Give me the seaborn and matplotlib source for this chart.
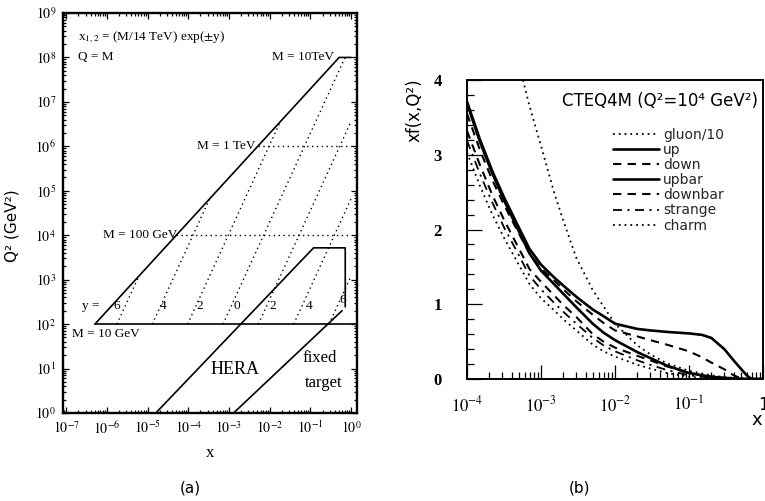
import math
import matplotlib
matplotlib.use("Agg")
import matplotlib.pyplot as plt
import seaborn as sns
from matplotlib.lines import Line2D
from matplotlib.ticker import FixedLocator, LogLocator, NullFormatter

sns.set_theme(style="ticks")
plt.rcParams["font.family"] = ["DejaVu Sans"]
plt.rcParams["mathtext.fontset"] = "stix"

# ---------------- panel (a): LHC / HERA kinematic plane ----------------
lhc_x = [5.1e-7, 0.51, 1.0]
lhc_q2 = [1e2, 1e8, 1e8]
m10_x = [5.1e-7, 1.4]
m10_q2 = [1e2, 1e2]
mass_q2 = [1e4, 1e6]          # M = 100 GeV, 1 TeV
mass_x_start = [5.1e-5, 5.1e-3]
mass_x_end = [1.0, 1.0]
rap_labels = ["6", "4", "2", "0", "2", "4", "6"]
rap_x_start = [1.77e-6, 1.31e-5, 9.66e-5, 7.14e-4, 5.28e-3, 3.90e-2, 0.288]
rap_x_end = [6.14e-6, 3.36e-4, 1.83e-2, 0.714, 1.0, 1.0, 1.0]
rap_q2_end = [1.2e3, 6.6e4, 3.6e6, 1e8, 3.6e6, 6.6e4, 1.2e3]
hera_x = [1.6e-5, 0.12, 0.72, 0.72]
hera_q2 = [1, 5.2e3, 5.2e3, 245]
fixed_x = [1.3e-3, 0.6]
fixed_q2 = [1, 200]

# ---------------- panel (b): CTEQ4M parton distributions ----------------
x_grid = [1e-4, 1.5e-4, 2.2e-4, 3.2e-4, 5e-4, 7e-4, 1e-3, 1.5e-3, 2e-3, 3e-3,
          5e-3, 7e-3, 1e-2, 2e-2, 3e-2, 5e-2, 0.1, 0.15, 0.2, 0.3, 0.4, 0.5,
          0.6, 0.7, 1.0]
up = [3.71, 3.20, 2.78, 2.42, 2.03, 1.74, 1.53, 1.36, 1.25, 1.10, 0.93, 0.84,
      0.74, 0.67, 0.65, 0.63, 0.61, 0.59, 0.55, 0.40, 0.25, 0.14, 0.05, 0.0, 0.0]
upbar = [3.69, 3.17, 2.75, 2.38, 1.98, 1.68, 1.45, 1.27, 1.14, 0.96, 0.74, 0.62,
         0.52, 0.36, 0.28, 0.18, 0.08, 0.05, 0.03, 0.015, 0.008, 0.003, 0.001, 0.0, 0.0]
down = [3.55, 3.06, 2.66, 2.32, 1.95, 1.68, 1.48, 1.32, 1.20, 1.04, 0.86, 0.75,
        0.65, 0.57, 0.52, 0.46, 0.37, 0.29, 0.22, 0.13, 0.05, 0.01, 0.0, 0.0, 0.0]
downbar = [3.32, 2.86, 2.46, 2.12, 1.75, 1.47, 1.30, 1.12, 0.99, 0.83, 0.60, 0.50,
           0.42, 0.31, 0.25, 0.17, 0.08, 0.05, 0.03, 0.015, 0.008, 0.003, 0.001, 0.0, 0.0]
strange = [3.19, 2.74, 2.36, 2.02, 1.66, 1.38, 1.20, 1.02, 0.90, 0.74, 0.55, 0.45,
           0.37, 0.25, 0.19, 0.12, 0.05, 0.03, 0.015, 0.005, 0.002, 0.0, 0.0, 0.0, 0.0]
charm = [3.03, 2.58, 2.20, 1.88, 1.53, 1.27, 1.08, 0.92, 0.80, 0.65, 0.46, 0.37,
         0.30, 0.19, 0.14, 0.08, 0.03, 0.015, 0.008, 0.002, 0.0, 0.0, 0.0, 0.0, 0.0]
gluon_x = [5.7e-4, 7e-4, 1e-3, 1.5e-3, 2e-3, 3e-3, 5e-3, 7e-3, 1e-2, 2e-2, 3e-2,
           5e-2, 0.1, 0.2, 0.3, 0.5, 0.7]
gluon10 = [4.0, 3.65, 3.12, 2.50, 2.12, 1.62, 1.19, 0.97, 0.74, 0.45, 0.33,
           0.21, 0.11, 0.05, 0.025, 0.007, 0.0]

dot = (0, (1, 2.2))
dash = (0, (4, 3))
dashdot = (0, (5, 3, 1.2, 3))
pdf_series = [
    ("gluon/10", gluon_x, gluon10, dot, 1.3),
    ("up", x_grid, up, "-", 1.9),
    ("down", x_grid, down, dash, 1.5),
    ("upbar", x_grid, upbar, "-", 1.9),
    ("downbar", x_grid, downbar, dash, 1.5),
    ("strange", x_grid, strange, dashdot, 1.3),
    ("charm", x_grid, charm, dot, 1.3),
]


def pow10(v, pos):
    return r"$10^{%d}$" % round(math.log10(v))


fig = plt.figure(figsize=(7.65, 5.01), dpi=100)

# ======================= panel (a) =======================
ax = fig.add_axes([63 / 765, 88 / 501, 294 / 765, 400 / 501])
ax.set_xscale("log")
ax.set_yscale("log")
ax.set_xlim(8.4e-8, 1.4)
ax.set_ylim(1, 1e9)

solid = dict(color="black", lw=1.2, estimator=None, sort=False, legend=False)
dotted = dict(color="black", lw=1.0, linestyle=(0, (1, 2.5)), estimator=None,
              sort=False, legend=False)

sns.lineplot(x=lhc_x, y=lhc_q2, ax=ax, **solid)
sns.lineplot(x=m10_x, y=m10_q2, ax=ax, **solid)
sns.lineplot(x=hera_x, y=hera_q2, ax=ax, **solid)
sns.lineplot(x=fixed_x, y=fixed_q2, ax=ax, **solid)
for q2, xs, xe in zip(mass_q2, mass_x_start, mass_x_end):
    sns.lineplot(x=[xs, xe], y=[q2, q2], ax=ax, **dotted)
for xs, xe, qe in zip(rap_x_start, rap_x_end, rap_q2_end):
    sns.lineplot(x=[xs, xe], y=[1e2, qe], ax=ax, **dotted)

ax.xaxis.set_major_locator(FixedLocator([10.0 ** k for k in range(-7, 1)]))
ax.xaxis.set_major_formatter(plt.FuncFormatter(pow10))
ax.xaxis.set_minor_locator(LogLocator(base=10, subs=range(2, 10), numticks=20))
ax.xaxis.set_minor_formatter(NullFormatter())
ax.yaxis.set_major_locator(FixedLocator([10.0 ** k for k in range(0, 10)]))
ax.yaxis.set_major_formatter(plt.FuncFormatter(pow10))
ax.yaxis.set_minor_locator(LogLocator(base=10, subs=range(2, 10), numticks=20))
ax.yaxis.set_minor_formatter(NullFormatter())
ax.tick_params(which="both", direction="in", top=True, right=True, colors="black",
               labelsize=10, width=0.9)
ax.tick_params(which="major", length=4, pad=5)
ax.tick_params(which="minor", length=2)
for s in ax.spines.values():
    s.set_color("black")
    s.set_linewidth(1.7)

tkw = dict(transform=ax.transAxes, family="Liberation Serif", color="black")
ax.text(0.051, 0.94, r"x$_{1,2}$ = (M/14 TeV) exp($\pm$y)", fontsize=9.5, va="center", **tkw)
ax.text(0.051, 0.89, "Q = M", fontsize=9.5, va="center", **tkw)
ax.text(0.711, 0.89, "M = 10TeV", fontsize=9.5, va="center", **tkw)
ax.text(0.456, 0.6675, "M = 1 TeV", fontsize=9.5, va="center", **tkw)
ax.text(0.136, 0.445, "M = 100 GeV", fontsize=9.5, va="center", **tkw)
ax.text(0.031, 0.1975, "M = 10 GeV", fontsize=9.5, va="center", **tkw)
ax.text(0.585, 0.1075, "HERA", fontsize=13, ha="center", va="center", **tkw)
ax.text(0.816, 0.1375, "fixed", fontsize=12, va="center", **tkw)
ax.text(0.822, 0.075, "target", fontsize=12, va="center", **tkw)
ax.text(0.065, 0.2675, "y =", fontsize=9.5, va="center", **tkw)
for lab, fx, fy in zip(rap_labels, [0.184, 0.340, 0.466, 0.592, 0.714, 0.837, 0.952],
                       [0.2675] * 6 + [0.2825]):
    ax.text(fx, fy, lab, fontsize=9.5, ha="center", va="center", **tkw)

fig.text(12 / 765, 1 - 226 / 501, "Q² (GeV²)", rotation=90, ha="center", va="center",
         fontsize=11, color="black")
fig.text(210 / 765, 1 - 453 / 501, "x", ha="center", va="center", fontsize=12,
         family="Liberation Serif", color="black")
fig.text(190 / 765, 1 - 488 / 501, "(a)", ha="center", va="center", fontsize=11,
         color="black")

# ======================= panel (b) =======================
bx = fig.add_axes([467 / 765, 122 / 501, 296 / 765, 299 / 501])
bx.set_xscale("log")
bx.set_xlim(1e-4, 1)
bx.set_ylim(0, 4)

handles = []
for name, xs, ys, ls, lw in pdf_series:
    sns.lineplot(x=xs, y=ys, ax=bx, color="black", lw=lw, linestyle=ls,
                 estimator=None, sort=False, legend=False)
    handles.append(Line2D([], [], color="black", lw=lw, linestyle=ls))

bx.legend(handles, [s[0] for s in pdf_series], loc="upper left",
          bbox_to_anchor=(0.493, 0.84), frameon=False, fontsize=10,
          handlelength=3.3, handletextpad=0.3, labelspacing=0.08,
          borderpad=0, borderaxespad=0)
bx.text(0.983, 0.93, "CTEQ4M (Q²=10⁴ GeV²)", transform=bx.transAxes, ha="right",
        va="center", fontsize=12, color="black")

bx.xaxis.set_major_locator(FixedLocator([1e-4, 1e-3, 1e-2, 1e-1, 1]))
bx.set_xticklabels([r"$10^{-4}$", r"$10^{-3}$", r"$10^{-2}$", r"$10^{-1}$", "1"])
bx.xaxis.set_minor_locator(LogLocator(base=10, subs=range(2, 10), numticks=20))
bx.xaxis.set_minor_formatter(NullFormatter())
bx.set_yticks([0, 1, 2, 3, 4])
bx.set_yticklabels(["0", "1", "2", "3", "4"], family="Liberation Serif",
                   fontweight="bold")
bx.set_yticks([0.2 * k for k in range(1, 20) if k % 5], minor=True)
bx.tick_params(which="both", direction="in", colors="black", width=0.9)
bx.tick_params(axis="y", which="major", length=11, pad=18, labelsize=12)
bx.tick_params(axis="x", which="major", length=10, pad=12, labelsize=12)
bx.tick_params(which="minor", length=5)
for s in bx.spines.values():
    s.set_color("black")
    s.set_linewidth(1.4)

fig.text(415 / 765, 1 - 110 / 501, "xf(x,Q²)", rotation=90, ha="center", va="center",
         fontsize=12, color="black")
fig.text(757 / 765, 1 - 420 / 501, "x", ha="center", va="center", fontsize=13,
         color="black")
fig.text(579 / 765, 1 - 488 / 501, "(b)", ha="center", va="center", fontsize=11,
         color="black")

fig.savefig("out.png", dpi=100)
